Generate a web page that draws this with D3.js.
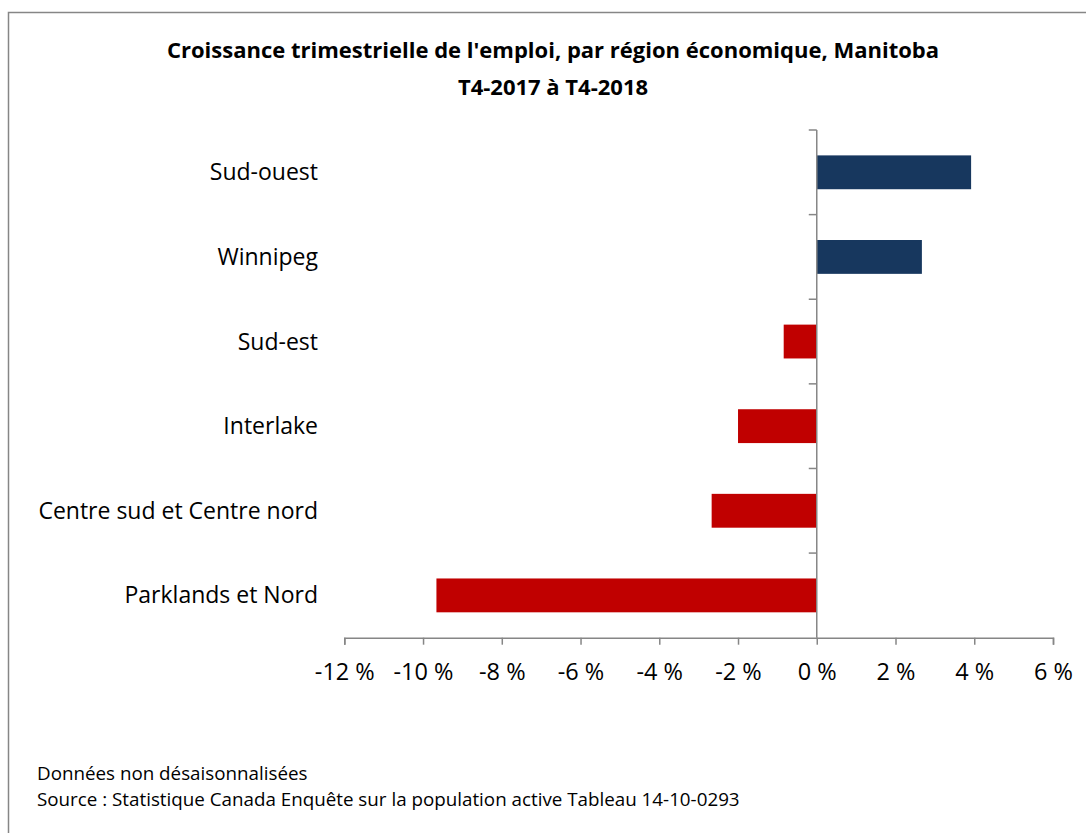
<!DOCTYPE html>
<html>
<head>
<meta charset="utf-8">
<script src="https://cdn.jsdelivr.net/npm/d3@7"></script>
<style>
  body { margin: 0; background: #fff; }
  svg { display: block; font-family: "Open Sans", sans-serif; }
</style>
</head>
<body>
<svg id="chart" width="1086" height="833"></svg>
<script>
// Data
var regions = ["Sud-ouest", "Winnipeg", "Sud-est", "Interlake", "Centre sud et Centre nord", "Parklands et Nord"];
var growth = [3.92, 2.67, -0.84, -2.0, -2.67, -9.66];
var xTicks = [-12, -10, -8, -6, -4, -2, 0, 2, 4, 6];
var titleLines = ["Croissance trimestrielle de l'emploi, par région économique, Manitoba", "T4-2017 à T4-2018"];
var notes = ["Données non désaisonnalisées", "Source : Statistique Canada Enquête sur la population active Tableau 14-10-0293"];

var svg = d3.select("#chart");

// frame
svg.append("rect")
    .attr("x", 8.5).attr("y", 12.5)
    .attr("width", 1100).attr("height", 840)
    .attr("fill", "none")
    .attr("stroke", "#868686")
    .attr("stroke-width", 1.5);

var x = d3.scaleLinear()
    .domain([-12, 6])
    .range([344.3, 1053]);

var y = d3.scaleBand()
    .domain(regions)
    .range([130, 637.7])
    .paddingInner(0.6)
    .paddingOuter(0.3);

var axisColor = "#868686";

// bars
svg.selectAll(".bar")
    .data(regions)
  .enter().append("rect")
    .attr("class", "bar")
    .attr("x", function(d, i) { return x(Math.min(0, growth[i])); })
    .attr("y", function(d) { return y(d); })
    .attr("width", function(d, i) { return Math.abs(x(growth[i]) - x(0)); })
    .attr("height", y.bandwidth())
    .attr("fill", function(d, i) { return growth[i] >= 0 ? "#17375e" : "#c00000"; });

// x axis
var xAxis = svg.append("g")
    .attr("transform", "translate(0," + 637.7 + ")")
    .call(d3.axisBottom(x)
      .tickValues(xTicks)
      .tickSize(7)
      .tickPadding(19)
      .tickFormat(function(d) { return d + " %"; }));
xAxis.select(".domain").attr("stroke", axisColor).attr("stroke-width", 1.5);
xAxis.selectAll(".tick line").attr("stroke", axisColor).attr("stroke-width", 1.5);
xAxis.selectAll(".tick text")
    .attr("fill", "#000")
    .style("font-size", "23.5px")
    .style("font-family", "'Open Sans', sans-serif")
    .text(function(d) { return (d < 0 ? "-" : "") + Math.abs(d) + " %"; });

// y axis at zero, with ticks between categories
var step = y.step();
var bounds = regions.map(function(d) { return y(d) - step * y.paddingInner() / 2; });
bounds.push(bounds[bounds.length - 1] + step);

svg.append("line")
    .attr("x1", x(0)).attr("x2", x(0))
    .attr("y1", bounds[0]).attr("y2", 637.7)
    .attr("stroke", axisColor).attr("stroke-width", 1.5);

svg.selectAll(".ytick")
    .data(bounds.slice(0, -1))
  .enter().append("line")
    .attr("class", "ytick")
    .attr("x1", x(0) - 8).attr("x2", x(0))
    .attr("y1", function(d) { return d; })
    .attr("y2", function(d) { return d; })
    .attr("stroke", axisColor).attr("stroke-width", 1.5);

// category labels
svg.selectAll(".label")
    .data(regions)
  .enter().append("text")
    .attr("class", "label")
    .attr("x", 318)
    .attr("y", function(d) { return y(d) + y.bandwidth() / 2; })
    .attr("dy", ".35em")
    .attr("text-anchor", "end")
    .style("font-size", "23px")
    .text(function(d) { return d; });

// title
svg.selectAll(".title")
    .data(titleLines)
  .enter().append("text")
    .attr("class", "title")
    .attr("x", 553)
    .attr("y", function(d, i) { return 58 + i * 37; })
    .attr("text-anchor", "middle")
    .style("font-size", "22px")
    .style("font-weight", "bold")
    .text(function(d) { return d; });

// notes
svg.selectAll(".note")
    .data(notes)
  .enter().append("text")
    .attr("class", "note")
    .attr("x", 37)
    .attr("y", function(d, i) { return 780 + i * 26; })
    .style("font-size", "18.8px")
    .text(function(d) { return d; });
</script>
</body>
</html>
